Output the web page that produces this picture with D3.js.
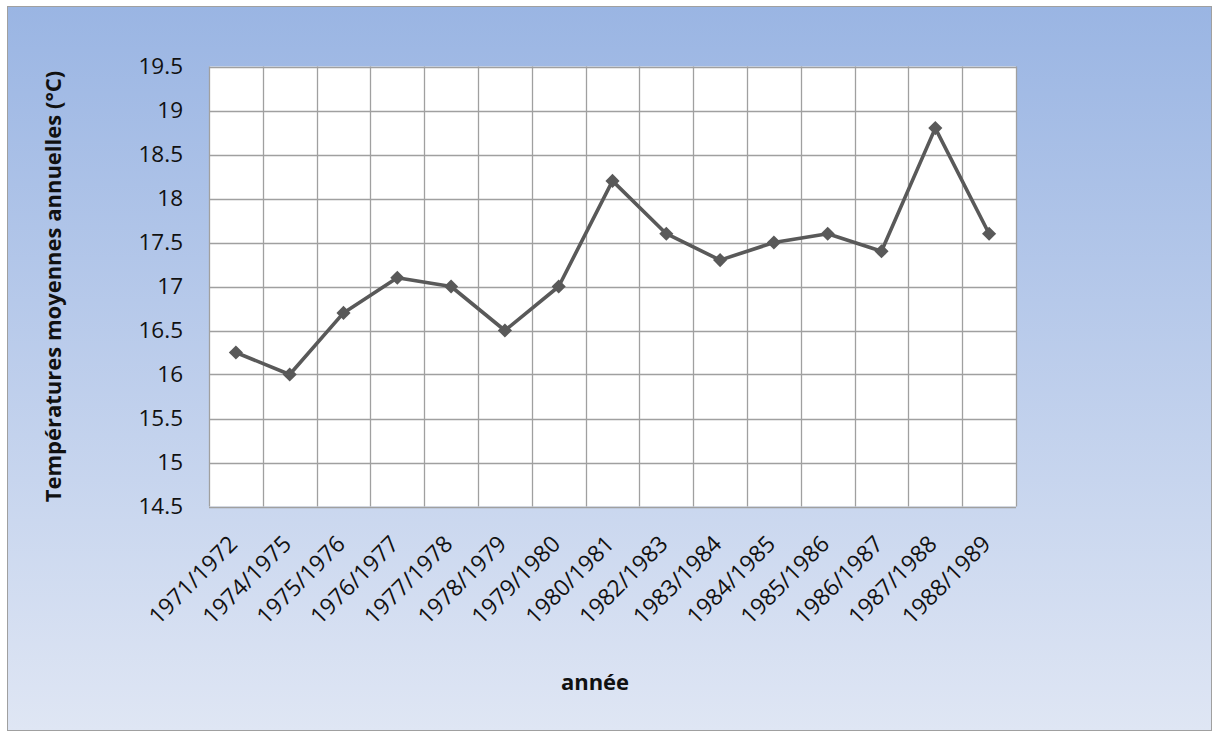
<!DOCTYPE html>
<html>
<head>
<meta charset="utf-8">
<script src="https://cdn.jsdelivr.net/npm/d3@7"></script>
<style>
  html, body { margin: 0; padding: 0; background: #ffffff; }
  svg { display: block; }
</style>
</head>
<body>
<svg id="chart" width="1214" height="733"></svg>
<script>
// Annual mean temperatures per hydrological year
const years = ["1971/1972", "1974/1975", "1975/1976", "1976/1977", "1977/1978",
  "1978/1979", "1979/1980", "1980/1981", "1982/1983", "1983/1984",
  "1984/1985", "1985/1986", "1986/1987", "1987/1988", "1988/1989"];
const temperatures = [16.25, 16.0, 16.7, 17.1, 17.0, 16.5, 17.0, 18.2, 17.6, 17.3,
  17.5, 17.6, 17.4, 18.8, 17.6];
const yTicks = [14.5, 15, 15.5, 16, 16.5, 17, 17.5, 18, 18.5, 19, 19.5];

const svg = d3.select("#chart");
const W = 1214, H = 733;
const plot = { left: 209, top: 66.5, right: 1016, bottom: 506.5 };
const font = "'Open Sans', 'Noto Sans', sans-serif";

// Background panel with vertical gradient
const defs = svg.append("defs");
const grad = defs.append("linearGradient").attr("id", "bg").attr("x1", 0).attr("y1", 0).attr("x2", 0).attr("y2", 1);
grad.append("stop").attr("offset", "0%").attr("stop-color", "#9ab5e3");
grad.append("stop").attr("offset", "100%").attr("stop-color", "#dfe6f4");

svg.append("rect")
  .attr("x", 7.5).attr("y", 6.5).attr("width", W - 10).attr("height", H - 9)
  .attr("fill", "url(#bg)").attr("stroke", "#a0a0a0").attr("stroke-width", 1);

const x = d3.scaleBand().domain(years).range([plot.left, plot.right]).padding(0);
const y = d3.scaleLinear().domain([14.5, 19.5]).range([plot.bottom, plot.top]);

// Plot area
svg.append("rect")
  .attr("x", plot.left).attr("y", plot.top)
  .attr("width", plot.right - plot.left).attr("height", plot.bottom - plot.top)
  .attr("fill", "#ffffff");

const gridColor = "#a0a0a0";
// Horizontal gridlines
svg.append("g").selectAll("line").data(yTicks).join("line")
  .attr("x1", plot.left).attr("x2", plot.right)
  .attr("y1", d => Math.round(y(d)) + 0.5).attr("y2", d => Math.round(y(d)) + 0.5)
  .attr("stroke", gridColor).attr("stroke-width", 1.3);
// Vertical gridlines at category boundaries
const bounds = years.map(d => x(d)).concat([plot.right]);
svg.append("g").selectAll("line").data(bounds).join("line")
  .attr("x1", d => Math.round(d) + 0.5).attr("x2", d => Math.round(d) + 0.5)
  .attr("y1", plot.top).attr("y2", plot.bottom)
  .attr("stroke", gridColor).attr("stroke-width", 1.3);

// Y axis labels
const yAxis = d3.axisLeft(y).tickValues(yTicks).tickSize(0).tickPadding(26)
  .tickFormat(d => String(d));
const gy = svg.append("g").attr("transform", `translate(${plot.left},0)`).call(yAxis);
gy.select(".domain").remove();
gy.selectAll("text").attr("font-family", font).attr("font-size", 22.5).attr("fill", "#111");

// X axis labels, rotated
const xAxis = d3.axisBottom(x).tickSize(0).tickPadding(0);
const gx = svg.append("g").attr("transform", `translate(0,${plot.bottom})`).call(xAxis);
gx.select(".domain").remove();
gx.selectAll("text")
  .attr("font-family", font).attr("font-size", 23).attr("fill", "#111")
  .attr("text-anchor", "end")
  .attr("dy", null)
  .attr("transform", "translate(3,39) rotate(-45)");

// Line and diamond markers
const line = d3.line().x(d => x(d.year) + x.bandwidth() / 2).y(d => y(d.t));
const pts = years.map((yr, i) => ({ year: yr, t: temperatures[i] }));
svg.append("path").datum(pts)
  .attr("d", line).attr("fill", "none")
  .attr("stroke", "#595959").attr("stroke-width", 3.6).attr("stroke-linejoin", "round");
svg.append("g").selectAll("path").data(pts).join("path")
  .attr("d", d3.symbol(d3.symbolSquare, 100))
  .attr("transform", d => `translate(${x(d.year) + x.bandwidth() / 2},${y(d.t)}) rotate(45)`)
  .attr("fill", "#595959");

// Axis titles
svg.append("text")
  .attr("transform", `translate(61,${(plot.top + plot.bottom) / 2}) rotate(-90)`)
  .attr("text-anchor", "middle")
  .attr("font-family", font).attr("font-size", 22).attr("font-weight", "bold").attr("fill", "#111")
  .text("Températures moyennes annuelles (°C)");

svg.append("text")
  .attr("x", 595).attr("y", 690)
  .attr("text-anchor", "middle")
  .attr("font-family", font).attr("font-size", 22).attr("font-weight", "bold").attr("fill", "#111")
  .text("année");
</script>
</body>
</html>
